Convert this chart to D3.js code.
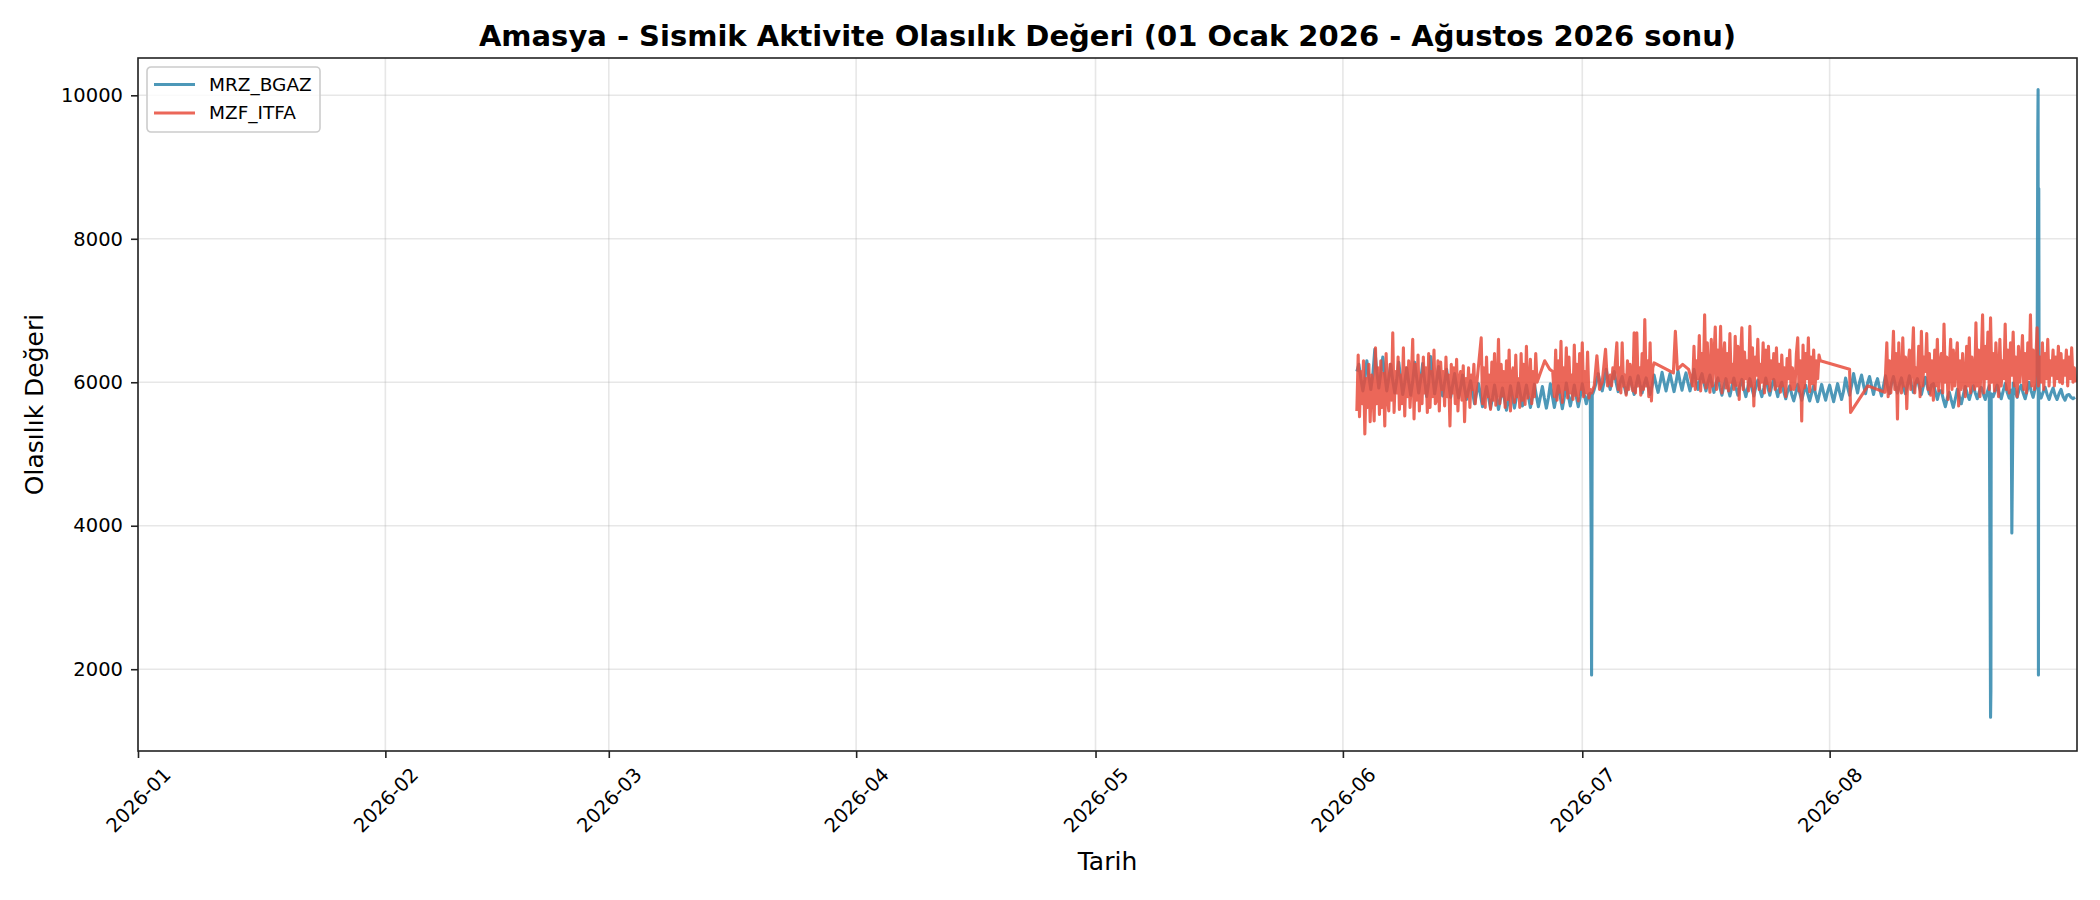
<!DOCTYPE html>
<html>
<head>
<meta charset="utf-8">
<script src="https://cdn.jsdelivr.net/npm/d3@7"></script>
<style>
  body { margin: 0; background: #fff; }
  text { font-family: 'DejaVu Sans', sans-serif; }
</style>
</head>
<body>
<svg id="chart" width="2100" height="900"></svg>
<script>
const chartTitle = 'Amasya - Sismik Aktivite Olasılık Değeri (01 Ocak 2026 - Ağustos 2026 sonu)';
const xLabel = 'Tarih';
const yLabel = 'Olasılık Değeri';
const seriesNames = ['MRZ_BGAZ', 'MZF_ITFA'];
const monthTicks = ['2026-01', '2026-02', '2026-03', '2026-04', '2026-05', '2026-06', '2026-07', '2026-08'];
const valueTicks = [2000, 4000, 6000, 8000, 10000];
const dateRange = ['2026-01-01T00:00', '2026-09-01T00:00'];
const valueRange = [860, 10520];

// MRZ_BGAZ, one reading every 6 hours from 2 June 18:00 (one row = one day)
const bgazStart = '2026-06-02T18:00';
const bgazValues = [6150,
  6250, 6050, 5880, 6040, 6300, 6080, 5900, 6100, 6460, 6150, 5920, 6120, 6350, 6100, 5880, 6060,
  6250, 6020, 5850, 6030, 6280, 6050, 5830, 6000, 6200, 6000, 5820, 6010, 6280, 6060, 5850, 6040,
  6260, 6020, 5800, 5990, 6360, 6080, 5840, 6020, 6220, 6000, 5810, 6000, 6180, 5980, 5790, 5960,
  6120, 5940, 5780, 5930, 6100, 5920, 5760, 5900, 6020, 5860, 5700, 5850, 5980, 5820, 5660, 5800,
  5940, 5790, 5640, 5780, 5960, 5800, 5620, 5770, 5920, 5760, 5610, 5750, 5950, 5790, 5640, 5790,
  5990, 5830, 5670, 5820, 5960, 5800, 5650, 5790, 5970, 5810, 5660, 5800, 5940, 5780, 5640, 5780,
  5980, 5810, 5650, 5800, 5950, 5790, 5630, 5790, 5990, 5820, 5670, 5810, 5960, 5800, 5660, 5800,
  // July
  5980, 5830, 5700, 5820, 5850, 5820, 5900, 6000, 6120, 5980, 5880, 6020, 6180, 6020, 5900, 6060,
  6150, 5990, 5870, 6000, 6080, 5950, 5840, 5960, 6070, 5940, 5830, 5960, 6090, 5960, 5850, 5970,
  6060, 5940, 5830, 5950, 6100, 5970, 5860, 5990, 6140, 6000, 5880, 6010, 6120, 5990, 5870, 6000,
  6160, 6010, 5890, 6030, 6130, 5990, 5880, 6010, 6180, 6020, 5900, 6040, 6120, 5990, 5880, 6000,
  6100, 5970, 5860, 5990, 6060, 5930, 5820, 5950, 6050, 5920, 5810, 5940, 6060, 5930, 5820, 5950,
  6040, 5910, 5800, 5930, 6050, 5920, 5810, 5940, 6030, 5900, 5800, 5920, 6060, 5930, 5820, 5950,
  6040, 5910, 5800, 5930, 6000, 5870, 5770, 5880, 5950, 5830, 5740, 5850, 5970, 5850, 5750, 5860,
  5960, 5840, 5740, 5850, 5950, 5830, 5730, 5850, 5970, 5850, 5750, 5870,
  // August
  5960, 5840, 5730, 5860, 5980, 5860, 5760, 5880, 6060, 5930, 5820, 5960, 6120, 5980, 5850, 6000,
  6100, 5960, 5840, 5990, 6080, 5950, 5830, 5970, 6050, 5920, 5810, 5950, 6090, 5950, 5840, 5980,
  6080, 5950, 5850, 5970, 6060, 5930, 5840, 5960, 6090, 5960, 5860, 5980, 6050, 5930, 5830, 5950,
  6070, 5940, 5840, 5960, 5980, 5870, 5760, 5880, 5880, 5760, 5660, 5780, 5860, 5750, 5650, 5770,
  5900, 5800, 5700, 5820, 5940, 5840, 5760, 5860, 5950, 5850, 5770, 5870, 5930, 5840, 5760, 5860,
  5950, 5840, 5800, 5880, 5960, 5850, 5770, 5880, 5980, 5860, 5780, 5890, 5990, 5870, 5790, 5900,
  5960, 5850, 5770, 5880, 6000, 5880, 5790, 5910, 5990, 5870, 5780, 5860, 5930, 5830, 5760, 5850,
  5920, 5820, 5760, 5840, 5900, 5800, 5750, 5820, 5830, 5790, 5770, 5790
];
// short drop-outs / spikes of MRZ_BGAZ
const bgazSpikeTimes = ['2026-07-02T03:00', '2026-07-02T04:00', '2026-08-21T03:00', '2026-08-21T04:00',
  '2026-08-21T05:00', '2026-08-23T20:00', '2026-08-27T02:00', '2026-08-27T03:00', '2026-08-27T04:00', '2026-08-27T05:00'];
const bgazSpikeValues = [3700, 1920, 2800, 1330, 1700, 3900, 9450, 10080, 1920, 8700];

// MZF_ITFA, dense blocks with a reading every 4 hours
const itfaBlockStarts = ['2026-06-02T18:00', '2026-06-18T08:00', '2026-06-27T12:00',
  '2026-07-04T08:00', '2026-07-14T20:00', '2026-08-08T00:00'];
const itfaJunA = [
  5600, 6380, 5520, 6150, 5700, 6300, 5280, 6050, 5650, 6250, 5450, 6100,
  5900, 5460, 6480, 5700, 6200, 5550, 6300, 5650, 6120, 5390, 6400, 5800,
  5600, 6250, 5750, 6690, 5580, 6150, 5850, 6350, 5620, 6100, 5700, 6480,
  5530, 6200, 5800, 6300, 5650, 6050, 6600, 5490, 6250, 5750, 6380, 5600,
  6100, 5700, 6350, 5850, 6200, 5580, 6400, 5650, 6150, 5800, 6450, 5700,
  5750, 6300, 5600, 6280, 5900, 6150, 5670, 6350, 5800, 6100, 5390, 6250,
  5850, 6200, 5700, 6320, 5600, 6050, 6150, 5750, 6230, 5450, 6050, 5800,
  6200, 5650, 6100, 5900, 6250, 5700, 5950
];
const itfaJunB = [
  6620, 5700, 6200, 5650, 6350, 5800, 6100, 5620, 6280, 5750, 6400, 5680,
  5900, 6600, 5700, 6250, 5810, 6150, 5650, 6300, 5760, 6450, 5600, 6100,
  6200, 5720, 6380, 5800, 6050, 5650, 6400, 5750, 6250, 5690, 6500, 5780,
  5900, 6320, 5700, 6150, 5800, 6400, 6000
];
const itfaJunC = [
  5800, 6450, 5750, 6300, 5860, 6570, 5720, 6200, 5900, 6480, 5780, 6350,
  5850, 6100, 5760, 6520, 5820, 6250, 5740, 6400, 5900, 6550, 5800, 6150,
  5850, 6420, 5780, 5900
];
const itfaJulD = [
  6000, 6100, 5950, 6200, 6050, 6300, 6550, 5900, 6200, 5850, 6550, 5950,
  6100, 5820, 6300, 5900, 6250, 6050, 5880, 6690, 5850, 6690, 5950, 6200,
  5820, 6400, 5900, 6875, 5950, 6300, 5800, 6550, 5740, 6200, 6270
];
const itfaJulE = [
  5950, 6500, 5900, 6300, 6050, 6650, 5880, 6400, 6000, 6940, 5920, 6550,
  6100, 5860, 6600, 5950, 6350, 6770, 5900, 6450, 6020, 6780, 5850, 6300,
  6550, 5920, 6400, 5880, 6680, 6000, 6250, 5900, 6640, 5960, 6500, 5760,
  6350, 6760, 5900, 6420, 6050, 6300, 5880, 6780, 5950, 6480, 5670, 6350,
  6100, 6600, 5900, 6250, 6000, 6550, 5850, 6450, 5980, 6500, 5880, 6300,
  6050, 6400, 5900, 6480, 5950, 6250, 5860, 6380, 5950, 6200, 5800, 6330,
  6050, 6450, 5900, 6200, 5900, 5950, 6400, 6620, 5880, 6300, 5460, 6520,
  5920, 6400, 6050, 6620, 5870, 6350, 5980, 6450, 5900, 6300, 6050, 6380,
  6300
];
const itfaAug = [
  6100, 6550, 5800, 6300, 5850, 6200, 6710, 5900, 6400, 5490, 6550, 6000,
  5850, 6620, 5950, 6350, 5630, 6250, 6450, 5900, 6300, 6760, 5850, 6200,
  6000, 6500, 5800, 6710, 5950, 6350, 6150, 6680, 5900, 6400, 5820, 6300,
  5750, 6450, 5950, 6600, 5880, 6250, 6400, 5850, 6810, 6000, 6350, 5760,
  6200, 6600, 5900, 6450, 5950, 6300, 6550, 5670, 6300, 5900, 6400, 6050,
  5800, 6500, 5950, 6620, 5850, 6350, 6100, 5900, 6830, 5950, 6450, 5800,
  6300, 6940, 5850, 6500, 6050, 6700, 5900, 6900, 6000, 6400, 5880, 6550,
  6150, 5800, 6600, 5950, 6300, 6050, 6810, 5900, 6450, 5850, 6550, 6100,
  6700, 5950, 6350, 5800, 6500, 6000, 6250, 6650, 5900, 6400, 5850, 6550,
  6050, 6940, 5950, 6450, 5900, 6300, 6760, 5950, 6350, 6000, 6550, 5900,
  6400, 6050, 6600, 5950, 6300, 6100, 6450, 5950, 6350, 6050, 6500, 6000,
  6400, 5980, 6300, 6100, 6450, 5950, 6350, 6050, 6480, 6000, 6200, 6000
];
// MZF_ITFA, isolated readings between the blocks
const itfaSparseTimes = ['2026-06-26T07:00', '2026-06-26T22:00', '2026-06-27T07:00',
  '2026-07-02T04:00', '2026-07-02T12:00', '2026-07-02T20:00', '2026-07-03T04:00', '2026-07-03T12:00',
  '2026-07-03T22:00', '2026-07-04T04:00', '2026-07-12T10:00', '2026-07-12T16:00', '2026-07-12T22:00',
  '2026-07-13T14:00', '2026-07-14T08:00', '2026-08-03T12:00', '2026-08-03T15:00', '2026-08-05T19:00',
  '2026-08-07T22:00'];
const itfaSparseValues = [6300, 6180, 6150, 5850, 5950, 6370, 5900, 6000, 6460, 5950,
  6130, 6710, 6180, 6250, 6180, 6180, 5580, 5950, 5860];

const colors = ['#2E86AB', '#E74C3C'];

const width = 2100;
const height = 900;
const margin = {top: 58, right: 23, bottom: 149, left: 138};
const innerW = width - margin.left - margin.right;
const innerH = height - margin.top - margin.bottom;
const lineWidth = 3.1;

const parseTime = d3.utcParse('%Y-%m-%dT%H:%M');
const parseMonth = d3.utcParse('%Y-%m');

const stepped = (start, hours, values) =>
  values.map((v, i) => ({date: d3.utcHour.offset(parseTime(start), i * hours), value: v}));
const paired = (times, values) => times.map((t, i) => ({date: parseTime(t), value: values[i]}));
const byDate = (a, b) => a.date - b.date;

const bgaz = stepped(bgazStart, 6, bgazValues)
  .concat(paired(bgazSpikeTimes, bgazSpikeValues))
  .sort(byDate);

const itfaBlocks = [itfaJunA, itfaJunB, itfaJunC, itfaJulD, itfaJulE, itfaAug];
const itfa = itfaBlocks
  .flatMap((block, i) => stepped(itfaBlockStarts[i], 4, block))
  .concat(paired(itfaSparseTimes, itfaSparseValues))
  .sort(byDate);

const svg = d3.select('#chart');
svg.append('rect').attr('width', width).attr('height', height).attr('fill', '#fff');

const x = d3.scaleUtc().domain(dateRange.map(parseTime)).range([0, innerW]);
const y = d3.scaleLinear().domain(valueRange).range([innerH, 0]);

const g = svg.append('g').attr('transform', `translate(${margin.left},${margin.top})`);

// grid
g.append('g')
  .selectAll('line')
  .data(monthTicks)
  .join('line')
  .attr('x1', d => x(parseMonth(d)))
  .attr('x2', d => x(parseMonth(d)))
  .attr('y1', 0)
  .attr('y2', innerH)
  .attr('stroke', '#b0b0b0')
  .attr('stroke-opacity', 0.3)
  .attr('stroke-width', 1.6);

g.append('g')
  .selectAll('line')
  .data(valueTicks)
  .join('line')
  .attr('x1', 0)
  .attr('x2', innerW)
  .attr('y1', d => y(d))
  .attr('y2', d => y(d))
  .attr('stroke', '#b0b0b0')
  .attr('stroke-opacity', 0.3)
  .attr('stroke-width', 1.6);

svg.append('defs').append('clipPath').attr('id', 'plot-clip')
  .append('rect').attr('width', innerW).attr('height', innerH);

const line = d3.line().x(d => x(d.date)).y(d => y(d.value));

const plot = g.append('g').attr('clip-path', 'url(#plot-clip)');
[bgaz, itfa].forEach((series, i) => {
  plot.append('path')
    .datum(series)
    .attr('d', line)
    .attr('fill', 'none')
    .attr('stroke', colors[i])
    .attr('stroke-opacity', 0.85)
    .attr('stroke-width', lineWidth)
    .attr('stroke-linejoin', 'round');
});

// axes
const xAxis = g.append('g')
  .attr('transform', `translate(0,${innerH})`)
  .call(d3.axisBottom(x)
    .tickValues(monthTicks.map(parseMonth))
    .tickFormat(d3.utcFormat('%Y-%m'))
    .tickSize(7)
    .tickSizeOuter(0));
xAxis.selectAll('text')
  .attr('y', 0)
  .attr('dy', '0.35em')
  .attr('text-anchor', 'middle')
  .attr('transform', 'translate(0,49) rotate(-45)');

const yAxis = g.append('g')
  .call(d3.axisLeft(y)
    .tickValues(valueTicks)
    .tickFormat(d3.format('d'))
    .tickSize(7)
    .tickPadding(8)
    .tickSizeOuter(0));

[xAxis, yAxis].forEach(axis => {
  axis.select('.domain').remove();
  axis.selectAll('line').attr('stroke', '#222').attr('stroke-width', 1.6);
  axis.selectAll('text').attr('font-size', '19.5px').attr('fill', '#000')
    .attr('font-family', "'DejaVu Sans', sans-serif");
});

g.append('rect')
  .attr('width', innerW)
  .attr('height', innerH)
  .attr('fill', 'none')
  .attr('stroke', '#222')
  .attr('stroke-width', 1.6);

// labels
svg.append('text')
  .attr('x', margin.left + innerW / 2)
  .attr('y', 46)
  .attr('text-anchor', 'middle')
  .attr('font-size', '29px')
  .attr('font-weight', 'bold')
  .text(chartTitle);

svg.append('text')
  .attr('x', margin.left + innerW / 2)
  .attr('y', 870)
  .attr('text-anchor', 'middle')
  .attr('font-size', '25px')
  .text(xLabel);

svg.append('text')
  .attr('transform', `translate(43,${margin.top + innerH / 2}) rotate(-90)`)
  .attr('text-anchor', 'middle')
  .attr('font-size', '25px')
  .text(yLabel);

// legend
const legend = svg.append('g').attr('transform', 'translate(147,67)');
legend.append('rect')
  .attr('width', 173)
  .attr('height', 65)
  .attr('rx', 4)
  .attr('fill', '#fff')
  .attr('fill-opacity', 0.8)
  .attr('stroke', '#cccccc')
  .attr('stroke-width', 1.6);

const legendItem = legend.selectAll('g.item')
  .data(seriesNames)
  .join('g')
  .attr('class', 'item')
  .attr('transform', (_d, i) => `translate(0,${17.5 + i * 28.5})`);

legendItem.append('line')
  .attr('x1', 7)
  .attr('x2', 48)
  .attr('stroke', (_d, i) => colors[i])
  .attr('stroke-opacity', 0.85)
  .attr('stroke-width', lineWidth);

legendItem.append('text')
  .attr('x', 62)
  .attr('dy', '0.35em')
  .attr('font-size', '18.5px')
  .text(d => d);
</script>
</body>
</html>
